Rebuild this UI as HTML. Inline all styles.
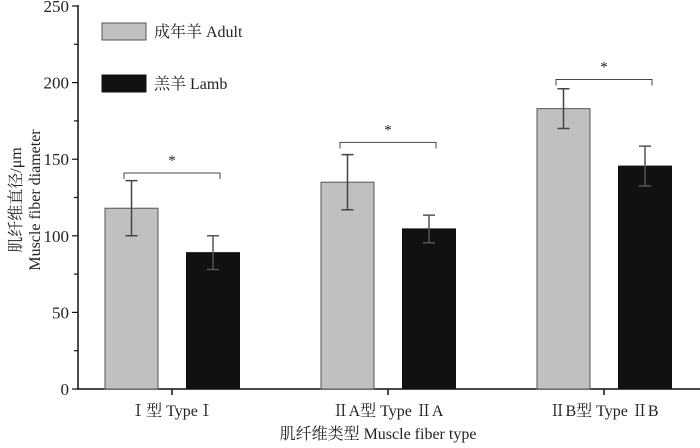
<!DOCTYPE html>
<html><head><meta charset="utf-8"><style>
body{margin:0;background:#fff;}
svg text{font-family:"Liberation Serif","Noto Serif CJK SC",serif;fill:#222;}
</style></head><body>
<svg id="chart" width="700" height="443" viewBox="0 0 700 443" xmlns="http://www.w3.org/2000/svg">
<g id="axes"></g><g id="bars"></g>
<rect x="102" y="23" width="44" height="17" fill="#c0c0c0" stroke="#555"/>
<text x="154" y="37" font-size="16">成年羊 Adult</text>
<rect x="102" y="75" width="44" height="17" fill="#111" stroke="#111"/>
<text x="154" y="89" font-size="16">羔羊 Lamb</text>
<text transform="translate(21,200) rotate(-90)" text-anchor="middle" font-size="16">肌纤维直径/μm</text>
<text transform="translate(40,200) rotate(-90)" text-anchor="middle" font-size="16">Muscle fiber diameter</text>
<text x="378" y="439" text-anchor="middle" font-size="16">肌纤维类型  Muscle fiber type</text>
</svg>
<script>
const categories=["Ⅰ型 TypeⅠ","ⅡA型  Type ⅡA","ⅡB型  Type ⅡB"];
const adult=[118,135,183];
const adultErr=[18,18,13];
const lamb=[89,104.5,145.5];
const lambErr=[11,9,13];
const bracketVals=[141,161,202];
const yTicks=[0,50,100,150,200,250];
const NS="http://www.w3.org/2000/svg";
const y=v=>389-v*383/250;
const xc=i=>172+i*216;
const axes=document.getElementById('axes'),bars=document.getElementById('bars');
function mk(p,tag,at){const e=document.createElementNS(NS,tag);for(const k in at)e.setAttribute(k,at[k]);p.appendChild(e);return e;}
let e=mk(axes,'line',{x1:78,y1:5,x2:78,y2:389,stroke:'#111','stroke-width':1.5});


e=mk(axes,'line',{x1:77,y1:389,x2:700,y2:389,stroke:'#111','stroke-width':1.5});


for(let v=0;v<=250;v+=25){const maj=v%50===0;mk(axes,'line',{x1:maj?72:74,y1:y(v),x2:78,y2:y(v),stroke:'#111','stroke-width':1.2});}
yTicks.forEach(v=>{const t=mk(axes,'text',{x:69,y:y(v)+6,'text-anchor':'end','font-size':17});t.textContent=v;

});
categories.forEach((c,i)=>{
mk(axes,'line',{x1:xc(i),y1:389,x2:xc(i),y2:395,stroke:'#111','stroke-width':1.5});
const t=mk(axes,'text',{x:xc(i),y:416,'text-anchor':'middle','font-size':16});t.textContent=c;


[[adult,adultErr,-40.5,'#c0c0c0','#555','#444','bar-adult'],[lamb,lambErr,41,'#111','#111','#555','bar-lamb']].forEach(s=>{
const cx=xc(i)+s[2],v=s[0][i],er=s[1][i];
const r=mk(bars,'rect',{x:cx-26.5,y:y(v),width:53,height:389-y(v),fill:s[3],stroke:s[4],'stroke-width':1});


const g=mk(bars,'path',{d:`M${cx} ${y(v+er)}V${y(v-er)}M${cx-6} ${y(v+er)}H${cx+6}M${cx-6} ${y(v-er)}H${cx+6}`,stroke:s[5],'stroke-width':1.5,fill:'none'});


});
const by=y(bracketVals[i]);
const b=mk(bars,'path',{d:`M${xc(i)-48} ${by+6}V${by}H${xc(i)+48}V${by+6}`,stroke:'#444','stroke-width':1,fill:'none'});


const s=mk(bars,'text',{x:xc(i),y:by-8,'text-anchor':'middle','font-size':15});s.textContent='*';


});
</script>
</body></html>
